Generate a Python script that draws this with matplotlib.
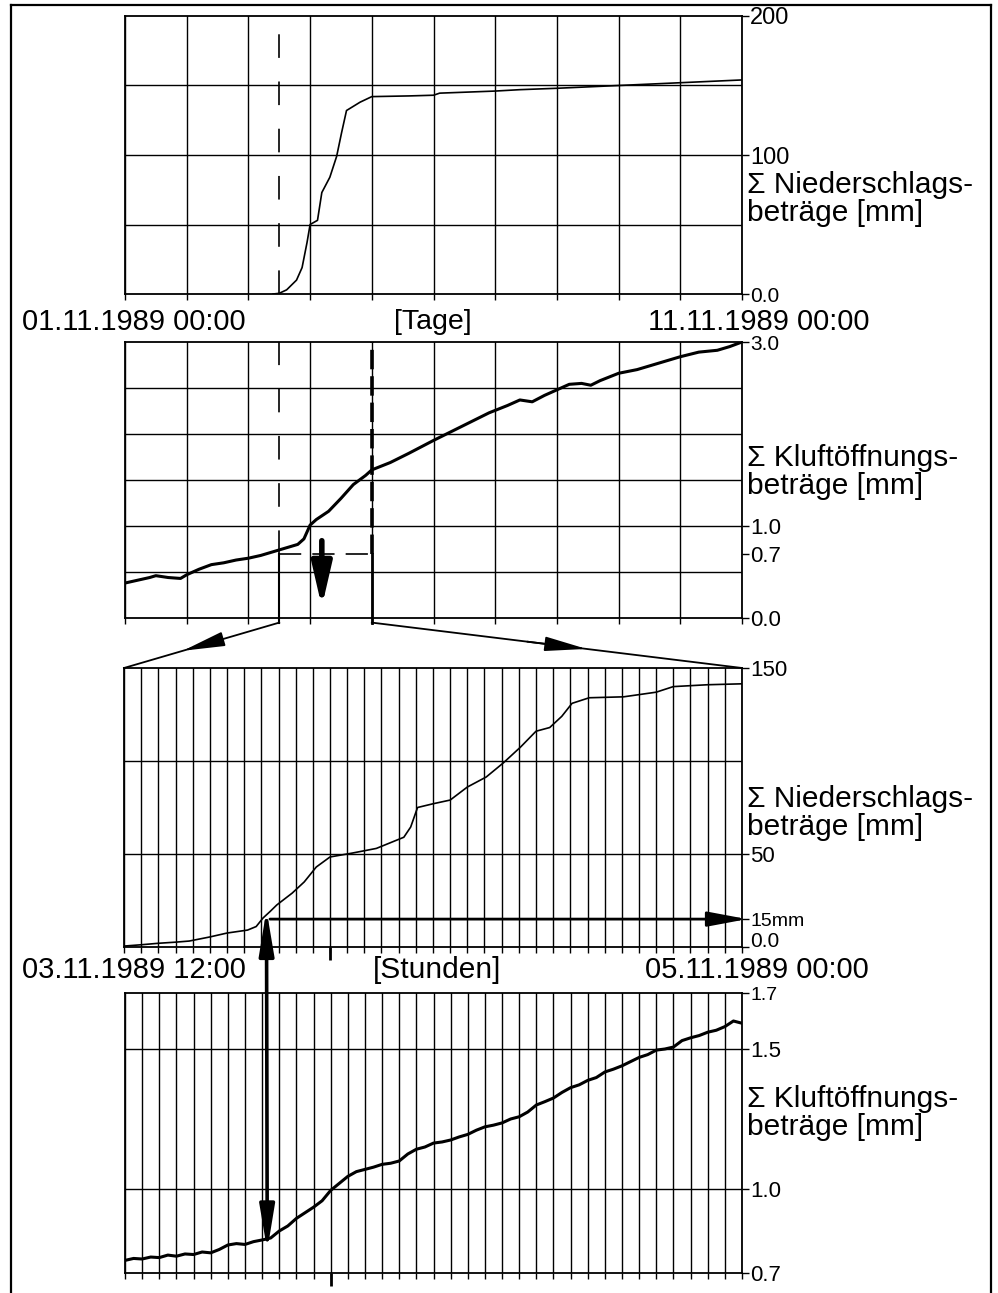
import matplotlib
matplotlib.use("Agg")
import matplotlib.pyplot as plt
from matplotlib.patches import ConnectionPatch, FancyArrowPatch
from matplotlib.lines import Line2D
from matplotlib.transforms import IdentityTransform

plt.rcParams['font.family'] = ['Liberation Sans', 'DejaVu Sans']
plt.rcParams['lines.scale_dashes'] = False

W, H = 998, 1293

# --- Daten ---
# Panel 1: Niederschlag, Tage ab 01.11.1989
tage_n = [2.4, 2.5, 2.62, 2.78, 2.87, 2.95, 3.0, 3.12, 3.19, 3.32, 3.43, 3.51, 3.59,
          3.70, 3.81, 4.0, 4.6, 5.0, 5.1, 6.0, 6.4, 7.0, 8.0, 9.0, 10.0]
nieder_tage = [0, 0.5, 3, 10, 19, 37, 50, 53, 73, 84, 99, 116, 132,
               135, 138, 142, 142.5, 143, 144.5, 146, 147, 148, 150, 152, 154]

# Panel 2: Kluftoeffnung, Tage
tage_k = [0.0, 0.2, 0.4, 0.5, 0.7, 0.9, 1.0, 1.1, 1.2, 1.4, 1.6, 1.8, 2.0, 2.2, 2.4,
          2.6, 2.8, 2.9, 3.0, 3.1, 3.3, 3.5, 3.7, 3.9, 4.0, 4.3, 4.6, 5.0, 5.3, 5.6,
          5.9, 6.2, 6.4, 6.6, 6.8, 7.0, 7.2, 7.4, 7.55, 7.7, 8.0, 8.3, 8.6, 9.0, 9.3,
          9.6, 9.8, 10.0]
kluft_tage = [0.38, 0.41, 0.44, 0.46, 0.44, 0.43, 0.47, 0.50, 0.53, 0.58, 0.60, 0.63,
              0.65, 0.68, 0.72, 0.76, 0.80, 0.86, 1.01, 1.07, 1.16, 1.30, 1.45, 1.55,
              1.61, 1.69, 1.79, 1.93, 2.03, 2.13, 2.23, 2.31, 2.37, 2.35, 2.42, 2.48,
              2.54, 2.55, 2.53, 2.58, 2.66, 2.70, 2.76, 2.84, 2.89, 2.91, 2.95, 3.0]

# Panel 3: Niederschlag, Stunden ab 03.11.1989 12:00
std_n = [0, 1, 2, 3, 3.8, 5.0, 6.0, 7.2, 7.7, 8.1, 8.5, 8.9, 9.8, 10.5, 11.2, 12.0,
         13.3, 14.7, 15.5, 16.3, 16.7, 17.1, 18.0, 19.0, 20.0, 21.1, 22.1, 23.1, 24.0,
         24.8, 25.5, 26.1, 27.1, 29.1, 31.0, 32.0, 34.0, 36.0]
nieder_std = [0.5, 1.2, 2, 2.6, 3.2, 5.4, 7.5, 9.1, 11, 15.6, 19, 22.6, 29, 35, 43,
              48.4, 50.5, 53, 56, 59, 64.5, 75, 77, 79, 86, 91.4, 99, 107.5, 116, 118,
              124, 131, 134, 134.5, 137, 140, 141, 141.5]

# Panel 4: Kluftoeffnung, Stunden (halbstuendlich)
std_k = [i * 0.5 for i in range(73)]
kluft_std = [0.745, 0.752, 0.750, 0.757, 0.755, 0.764, 0.760, 0.768, 0.766, 0.775,
             0.772, 0.784, 0.800, 0.805, 0.802, 0.812, 0.818, 0.825, 0.850, 0.868,
             0.895, 0.915, 0.935, 0.958, 0.995, 1.020, 1.045, 1.062, 1.070, 1.078,
             1.088, 1.092, 1.100, 1.125, 1.142, 1.150, 1.164, 1.168, 1.175, 1.186,
             1.195, 1.210, 1.222, 1.228, 1.236, 1.250, 1.258, 1.275, 1.300, 1.312,
             1.325, 1.345, 1.362, 1.372, 1.388, 1.398, 1.418, 1.428, 1.440, 1.455,
             1.470, 1.480, 1.496, 1.500, 1.507, 1.530, 1.540, 1.548, 1.560, 1.567,
             1.580, 1.600, 1.592]

tage_grid = list(range(11))
std_grid = list(range(37))

fig = plt.figure(figsize=(W / 100, H / 100), dpi=100)


def achse(x0, x1, y0, y1):
    return fig.add_axes([x0 / W, 1 - y1 / H, (x1 - x0) / W, (y1 - y0) / H])


def stil(ax, xgrid, ygrid, ylim, yticks, ylabels, fs):
    ax.set_xlim(xgrid[0], xgrid[-1])
    ax.set_ylim(*ylim)
    for v in xgrid:
        ax.axvline(v, color='k', lw=1.0, zorder=1)
    for v in ygrid:
        ax.axhline(v, color='k', lw=1.0, zorder=1)
    ax.yaxis.tick_right()
    ax.set_yticks(yticks)
    ax.set_yticklabels(ylabels, fontsize=fs)
    ax.tick_params(axis='y', direction='out', length=5, width=1, pad=1)
    ax.set_xticks(xgrid)
    ax.set_xticklabels([])
    ax.tick_params(axis='x', direction='out', length=4, width=1)
    for s in ax.spines.values():
        s.set_linewidth(1.3)


ax1 = achse(125, 742, 16, 294)
ax2 = achse(125, 742, 342, 618)
ax3 = achse(124, 742, 668, 947)
ax4 = achse(125, 742, 993, 1273)

stil(ax1, tage_grid, [50, 100, 150], (0, 200), [0, 100, 200], ['0.0', '100', '200'], 17)
stil(ax2, tage_grid, [0.5, 1.0, 1.5, 2.0, 2.5], (0, 3), [0, 0.7, 1.0, 3.0],
     ['0.0', '0.7', '1.0', '3.0'], 16)
stil(ax3, std_grid, [50, 100], (0, 150), [0, 15, 50, 150], ['0.0', '15mm', '50', '150'], 16)
stil(ax4, std_grid, [1.0, 1.5], (0.7, 1.7), [0.7, 1.0, 1.5, 1.7], ['0.7', '1.0', '1.5', '1.7'], 16)
ax1.get_yticklabels()[0].set_fontsize(15)
ax2.get_yticklabels()[3].set_fontsize(15)
ax3.get_yticklabels()[0].set_fontsize(15)
ax3.get_yticklabels()[0].set_verticalalignment('baseline')
ax3.get_yticklabels()[1].set_fontsize(14)
ax4.get_yticklabels()[3].set_fontsize(14)

# laengerer Strich bei 04.11.1989 00:00
for ax in (ax3, ax4):
    ax.xaxis.remove_overlapping_locs = False
    ax.set_xticks([12], minor=True)
    ax.tick_params(axis='x', which='minor', length=9, width=2)

ax1.plot(tage_n, nieder_tage, color='k', lw=1.2, zorder=3)
ax2.plot(tage_k, kluft_tage, color='k', lw=2.2, zorder=3)
ax3.plot(std_n, nieder_std, color='k', lw=1.2, zorder=3)
ax4.plot(std_k, kluft_std, color='k', lw=2.2, zorder=3)

# Achsenbeschriftungen rechts
lab_n = 'Σ Niederschlags-\nbeträge [mm]'
lab_k = 'Σ Kluftöffnungs-\nbeträge [mm]'
for ax, lab, yc in ((ax1, lab_n, 0.34), (ax2, lab_k, 0.53), (ax3, lab_n, 0.48), (ax4, lab_k, 0.57)):
    ax.text(1.008, yc, lab, transform=ax.transAxes, ha='left', va='center',
            fontsize=21.5, linespacing=1.0)

# Datumszeilen
fs_d = 21
fig.text(22 / W, 1 - 322 / H, '01.11.1989 00:00', ha='left', va='center', fontsize=fs_d)
fig.text(433 / W, 1 - 322 / H, '[Tage]', ha='center', va='center', fontsize=20.5)
fig.text(869 / W, 1 - 322 / H, '11.11.1989 00:00', ha='right', va='center', fontsize=fs_d)
fig.text(22 / W, 1 - 970 / H, '03.11.1989 12:00', ha='left', va='center', fontsize=fs_d)
fig.text(437 / W, 1 - 970 / H, '[Stunden]', ha='center', va='center', fontsize=21.5)
fig.text(869 / W, 1 - 970 / H, '05.11.1989 00:00', ha='right', va='center', fontsize=fs_d)

# Markierung des Ausschnitts
t0, t1 = 2.5, 4.0
ax1.plot([t0, t0], [0, 190], color='k', lw=1.2, dashes=(17, 17), zorder=4)
ax2.plot([t0, t0], [0.7, 3.0], color='k', lw=1.2, dashes=(17, 17), zorder=4)
ax2.plot([t1, t1], [0.7, 3.0], color='k', lw=2.6, dashes=(14, 5), zorder=4)
ax2.plot([t0, t1], [0.7, 0.7], color='k', lw=1.2, dashes=(16, 8), zorder=4)
ax2.plot([t0, t0], [-0.05, 0.7], color='k', lw=1.5, zorder=4, clip_on=False)
ax2.plot([t1, t1], [-0.05, 0.7], color='k', lw=2.0, zorder=4, clip_on=False)
ax2.annotate('', xy=(3.19, 0.12), xytext=(3.19, 0.84),
             arrowprops=dict(arrowstyle='-|>,head_length=2.6,head_width=0.6',
                             mutation_scale=10, lw=4.0, color='k',
                             shrinkA=0, shrinkB=0), zorder=5)

# Verbindungslinien zum Ausschnitt
pA_l = ax2.transData.transform((t0, -0.05))
pB_l = ax3.transData.transform((0, 150))
pA_r = ax2.transData.transform((t1, -0.05))
pB_r = ax3.transData.transform((36, 150))
for pa, pb, t in ((pA_l, pB_l, 0.62), (pA_r, pB_r, 0.58)):
    fig.add_artist(Line2D([pa[0], pb[0]], [pa[1], pb[1]], transform=IdentityTransform(),
                          color='k', lw=1.3))
    pm = pa + t * (pb - pa)
    pq = pa + (t - 0.16) * (pb - pa)
    fig.add_artist(FancyArrowPatch(tuple(pq), tuple(pm), transform=IdentityTransform(),
                                   arrowstyle='-|>,head_length=2.6,head_width=0.45',
                                   mutation_scale=10, lw=1.3, color='k',
                                   shrinkA=0, shrinkB=0))

# 15mm-Pfeil
ax3.annotate('', xy=(36.3, 15), xytext=(8.5, 15), annotation_clip=False,
             arrowprops=dict(arrowstyle='-|>,head_length=2.4,head_width=0.45',
                             mutation_scale=10, lw=2.0, color='k',
                             shrinkA=0, shrinkB=0), zorder=5)

# Doppelpfeil zwischen Panel 3 und 4
fig.add_artist(ConnectionPatch(xyA=(8.3, 20), coordsA=ax3.transData,
                               xyB=(8.3, 0.78), coordsB=ax4.transData,
                               arrowstyle='<|-|>,head_length=2.7,head_width=0.45',
                               mutation_scale=10, lw=2.6, color='k',
                               shrinkA=0, shrinkB=0, zorder=6))

# Rahmen
for xs, ys in (([11, 11], [H, 5]), ([11, 991], [5, 5]), ([991, 991], [5, H])):
    fig.add_artist(Line2D([x / W for x in xs], [1 - y / H for y in ys],
                          transform=fig.transFigure, color='k', lw=1.6))

fig.savefig('out.png', dpi=100)
